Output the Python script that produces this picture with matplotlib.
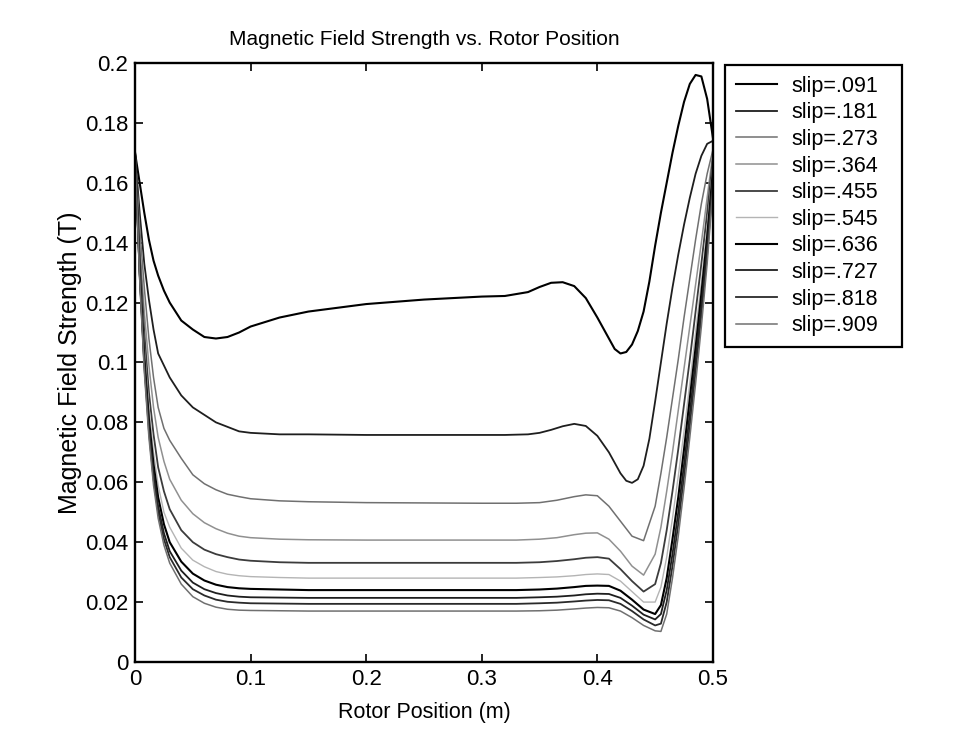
import matplotlib
matplotlib.use('Agg')

import numpy as np
import matplotlib.pyplot as plt

# ─── Data ───
# denser grid for the two upper curves, where the bumps are large
x_top = [0, 0.004, 0.008, 0.012, 0.016, 0.02, 0.025, 0.03, 0.04, 0.05,
         0.06, 0.07, 0.08, 0.09, 0.1, 0.125, 0.15, 0.2, 0.25, 0.3,
         0.32, 0.34, 0.35, 0.36, 0.37, 0.38, 0.39, 0.4, 0.41, 0.415,
         0.42, 0.425, 0.43, 0.435, 0.44, 0.445, 0.45, 0.455, 0.46, 0.465,
         0.47, 0.475, 0.48, 0.485, 0.49, 0.495, 0.5]
x_pos = [0, 0.004, 0.008, 0.012, 0.016, 0.02, 0.025, 0.03, 0.04, 0.05,
         0.06, 0.07, 0.08, 0.09, 0.1, 0.125, 0.15, 0.2, 0.25, 0.3,
         0.33, 0.35, 0.365, 0.38, 0.39, 0.4, 0.41, 0.42, 0.43, 0.44,
         0.45, 0.455, 0.46, 0.465, 0.47, 0.475, 0.48, 0.485, 0.49, 0.495, 0.5]

slip_labels = ['slip=.091', 'slip=.181', 'slip=.273', 'slip=.364', 'slip=.455',
               'slip=.545', 'slip=.636', 'slip=.727', 'slip=.818', 'slip=.909']

b_091 = [0.170, 0.160, 0.150, 0.141, 0.134, 0.129, 0.124, 0.120, 0.114, 0.111,
         0.1085, 0.108, 0.1085, 0.110, 0.112, 0.115, 0.117, 0.1195, 0.121, 0.122,
         0.1222, 0.1235, 0.1252, 0.1266, 0.1268, 0.1255, 0.1215, 0.115, 0.108, 0.1045,
         0.103, 0.1035, 0.106, 0.1105, 0.117, 0.127, 0.139, 0.150, 0.160, 0.170,
         0.179, 0.187, 0.193, 0.196, 0.1955, 0.188, 0.175]
b_181 = [0.170, 0.150, 0.133, 0.121, 0.111, 0.103, 0.099, 0.095, 0.089, 0.085,
         0.0825, 0.080, 0.0785, 0.077, 0.0765, 0.076, 0.076, 0.0758, 0.0758, 0.0758,
         0.0758, 0.076, 0.0765, 0.0775, 0.0787, 0.0795, 0.0788, 0.0755, 0.070, 0.0665,
         0.063, 0.0605, 0.0598, 0.061, 0.0655, 0.0745, 0.087, 0.100, 0.113, 0.125,
         0.136, 0.146, 0.155, 0.163, 0.169, 0.173, 0.174]
b_273 = [0.170, 0.145, 0.125, 0.108, 0.095, 0.085, 0.078, 0.074, 0.068, 0.0625,
         0.0595, 0.0575, 0.056, 0.0552, 0.0545, 0.0538, 0.0535, 0.0532, 0.0531, 0.053,
         0.053, 0.0532, 0.054, 0.0552, 0.0558, 0.0555, 0.052, 0.047, 0.042, 0.0405,
         0.052, 0.063, 0.075, 0.088, 0.101, 0.115, 0.128, 0.141, 0.153, 0.163, 0.171]
b_364 = [0.170, 0.140, 0.117, 0.099, 0.085, 0.075, 0.067, 0.061, 0.054, 0.0495,
         0.0465, 0.0445, 0.043, 0.042, 0.0415, 0.041, 0.0408, 0.0407, 0.0407, 0.0407,
         0.0407, 0.041, 0.0415, 0.0425, 0.043, 0.0431, 0.041, 0.037, 0.032, 0.029,
         0.036, 0.045, 0.057, 0.070, 0.084, 0.098, 0.112, 0.126, 0.140, 0.155, 0.170]
b_455 = [0.170, 0.136, 0.110, 0.090, 0.076, 0.065, 0.057, 0.051, 0.044, 0.040,
         0.0375, 0.036, 0.035, 0.0342, 0.0338, 0.0333, 0.0331, 0.0331, 0.0331, 0.0331,
         0.0331, 0.0333, 0.0337, 0.0343, 0.0348, 0.035, 0.0345, 0.031, 0.027, 0.0235,
         0.026, 0.033, 0.044, 0.057, 0.071, 0.086, 0.101, 0.117, 0.133, 0.150, 0.168]
b_545 = [0.170, 0.133, 0.105, 0.085, 0.070, 0.059, 0.050, 0.045, 0.038, 0.034,
         0.0318, 0.0302, 0.0293, 0.0288, 0.0285, 0.0282, 0.028, 0.028, 0.028, 0.028,
         0.028, 0.0282, 0.0284, 0.0288, 0.0292, 0.0294, 0.0292, 0.027, 0.0235, 0.020,
         0.020, 0.025, 0.035, 0.048, 0.062, 0.077, 0.093, 0.110, 0.127, 0.145, 0.166]
b_636 = [0.170, 0.131, 0.102, 0.081, 0.066, 0.055, 0.046, 0.040, 0.0335, 0.0295,
         0.0272, 0.0258, 0.025, 0.0246, 0.0244, 0.0242, 0.024, 0.024, 0.024, 0.024,
         0.024, 0.0242, 0.0245, 0.025, 0.0254, 0.0255, 0.0254, 0.0238, 0.0208, 0.0175,
         0.016, 0.019, 0.028, 0.041, 0.055, 0.071, 0.088, 0.105, 0.123, 0.142, 0.164]
b_727 = [0.170, 0.130, 0.100, 0.079, 0.063, 0.052, 0.043, 0.037, 0.0305, 0.0265,
         0.0243, 0.023, 0.0222, 0.0218, 0.0216, 0.0215, 0.0214, 0.0214, 0.0214, 0.0214,
         0.0214, 0.0216, 0.0218, 0.0222, 0.0226, 0.0228, 0.0227, 0.0214, 0.0188, 0.0158,
         0.0142, 0.016, 0.024, 0.036, 0.050, 0.066, 0.083, 0.101, 0.119, 0.139, 0.162]
b_818 = [0.170, 0.129, 0.099, 0.077, 0.061, 0.050, 0.041, 0.035, 0.0282, 0.0243,
         0.0222, 0.0208, 0.0201, 0.0198, 0.0196, 0.0195, 0.0194, 0.0194, 0.0194, 0.0194,
         0.0194, 0.0196, 0.0198, 0.0202, 0.0205, 0.0207, 0.0206, 0.0194, 0.017, 0.0142,
         0.0122, 0.0128, 0.020, 0.032, 0.046, 0.062, 0.079, 0.097, 0.116, 0.136, 0.160]
b_909 = [0.170, 0.128, 0.097, 0.075, 0.059, 0.048, 0.039, 0.033, 0.026, 0.0218,
         0.0196, 0.0183, 0.0176, 0.0173, 0.0172, 0.0171, 0.017, 0.017, 0.017, 0.017,
         0.017, 0.0171, 0.0173, 0.0177, 0.018, 0.0182, 0.0181, 0.017, 0.0148, 0.0122,
         0.0104, 0.0102, 0.016, 0.028, 0.042, 0.058, 0.075, 0.093, 0.112, 0.133, 0.158]

curves = [b_091, b_181, b_273, b_364, b_455, b_545, b_636, b_727, b_818, b_909]
xs = [x_top, x_top] + [x_pos] * 8

# grey levels of the scanned MATLAB colour order (b g r c m y k b g r)
greys = ['#000000', '#1e1e1e', '#707070', '#909090', '#3c3c3c',
         '#b4b4b4', '#000000', '#1e1e1e', '#2a2a2a', '#707070']
widths = [1.5, 1.3, 1.1, 1.1, 1.3, 1.0, 1.5, 1.3, 1.3, 1.1]

plt.rcParams['font.family'] = ['Liberation Sans', 'DejaVu Sans']
plt.rcParams['font.size'] = 15

fig = plt.figure(figsize=(9.68, 7.33), dpi=100, facecolor='white')
ax = fig.add_axes([0.1395, 0.0969, 0.597, 0.8172])

for x, y, lab, c, lw in zip(xs, curves, slip_labels, greys, widths):
    ax.plot(x, y, color=c, linewidth=lw, label=lab)

ax.set_xlim(0, 0.5)
ax.set_ylim(0, 0.2)
ax.set_xticks([0, 0.1, 0.2, 0.3, 0.4, 0.5])
ax.set_xticklabels(['0', '0.1', '0.2', '0.3', '0.4', '0.5'])
ax.set_yticks(np.arange(0, 0.201, 0.02))
ax.set_yticklabels(['0', '0.02', '0.04', '0.06', '0.08', '0.1', '0.12',
                    '0.14', '0.16', '0.18', '0.2'])
ax.tick_params(direction='in', length=6, width=1.2, top=True, right=True,
               labelsize=16, pad=5)
for s in ax.spines.values():
    s.set_linewidth(1.7)

ax.set_title('Magnetic Field Strength vs. Rotor Position', fontsize=15, pad=13)
ax.set_xlabel('Rotor Position (m)', fontsize=15.5, labelpad=9)
ax.set_ylabel('Magnetic Field Strength (T)', fontsize=18, labelpad=2)

# legend box stretched to the width of the original (x 725..902 px)
leg = fig.legend(loc='upper left',
                 bbox_to_anchor=(725 / 968, 0, 177 / 968, 1 - 65 / 733),
                 mode='expand',
                 fontsize=15.5, frameon=True, fancybox=False, framealpha=1,
                 edgecolor='black', handlelength=1.9, labelspacing=0.26,
                 borderpad=0.5, handletextpad=0.7, borderaxespad=0)
leg.get_frame().set_linewidth(1.6)

fig.savefig('out.png', dpi=100, facecolor='white')
